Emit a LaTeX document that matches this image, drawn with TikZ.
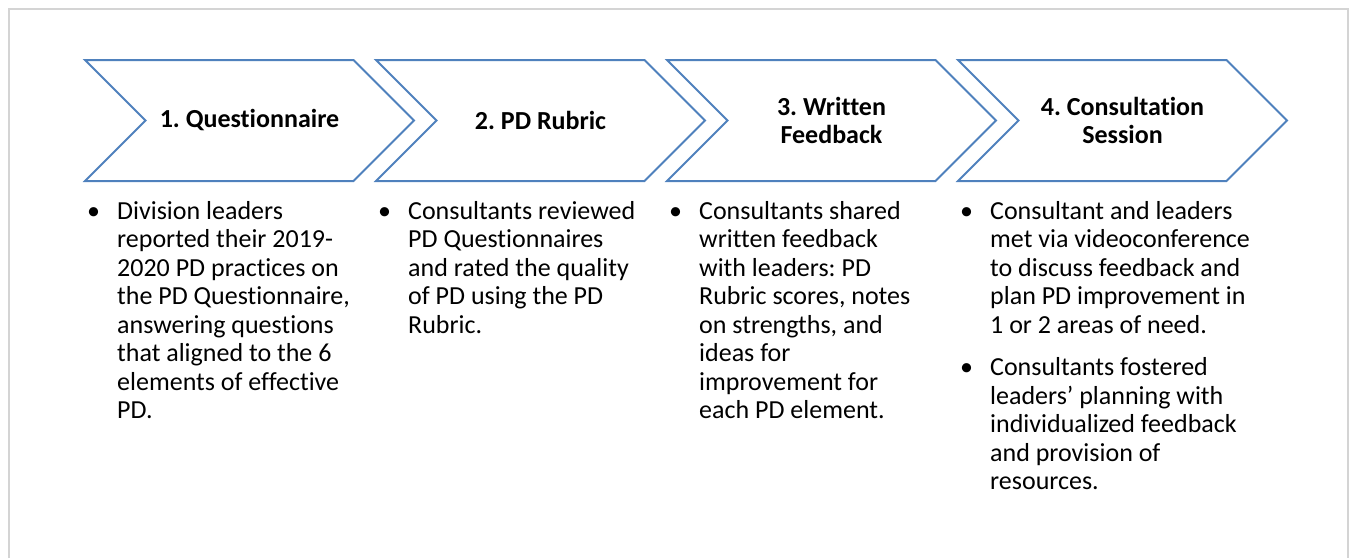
\documentclass[tikz,border=0pt]{standalone}
\usepackage{fontspec}
\setmainfont{Carlito}[Ligatures=NoCommon]
\frenchspacing
\usetikzlibrary{shapes.symbols}
\definecolor{chevblue}{RGB}{79,129,189}
\definecolor{framegray}{RGB}{212,212,212}
\begin{document}
\begin{tikzpicture}[
       x=1pt, y=-1pt,
       chevron/.style={
         signal,
         signal from=west,
         signal to=east,
         signal pointer angle=90,
         draw=chevblue,
         line width=2pt,
         fill=white,
         minimum width=329pt,
         minimum height=121pt,
         inner sep=0pt,
         align=center,
         font=\fontsize{26}{28}\selectfont\bfseries
       },
       bullets/.style={
         anchor=base west,
         inner sep=0pt,
         font=\fontsize{26}{28.5}\selectfont
       }
     ]

       \useasboundingbox (0,0) rectangle (1353,558);
       \draw[framegray, line width=2.5pt] (9,558) -- (9,9) -- (1348,9) -- (1348,558);

       \node (s1) at (249.5,120.5) [chevron]{1. Questionnaire};
       \node (s2) at (540.5,120.5) [chevron]{2. PD Rubric};
       \node (s3) at (831.5,120.5) [chevron]{3. Written\\Feedback};
       \node (s4) at (1122.5,120.5) [chevron]{4. Consultation\\Session};

       \node (d1) at (87,219) [bullets]{\begin{tabular}[t]{@{}p{30pt}@{}l@{}}
         \textbullet & Division leaders\\
         & reported their 2019-\\
         & 2020 PD practices on\\
         & the PD Questionnaire,\\
         & answering questions\\
         & that aligned to the 6\\
         & elements of effective\\
         & PD.
       \end{tabular}};
       \node (d2) at (378,219) [bullets]{\begin{tabular}[t]{@{}p{30pt}@{}l@{}}
         \textbullet & Consultants reviewed\\
         & PD Questionnaires\\
         & and rated the quality\\
         & of PD using the PD\\
         & Rubric.
       \end{tabular}};
       \node (d3) at (669,219) [bullets]{\begin{tabular}[t]{@{}p{30pt}@{}l@{}}
         \textbullet & Consultants shared\\
         & written feedback\\
         & with leaders: PD\\
         & Rubric scores, notes\\
         & on strengths, and\\
         & ideas for\\
         & improvement for\\
         & each PD element.
       \end{tabular}};
       \node (d4) at (960,219) [bullets]{\begin{tabular}[t]{@{}p{30pt}@{}l@{}}
         \textbullet & Consultant and leaders\\
         & met via videoconference\\
         & to discuss feedback and\\
         & plan PD improvement in\\
         & 1 or 2 areas of need.\\[14pt]
         \textbullet & Consultants fostered\\
         & leaders’ planning with\\
         & individualized feedback\\
         & and provision of\\
         & resources.
       \end{tabular}};

\end{tikzpicture}
\end{document}
